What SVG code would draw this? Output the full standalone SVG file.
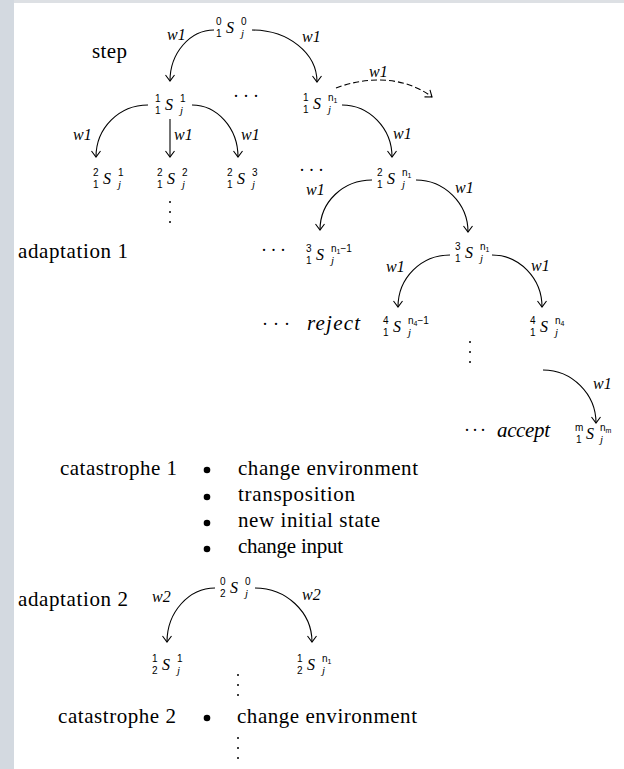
<svg xmlns="http://www.w3.org/2000/svg" width="624" height="769" viewBox="0 0 624 769">
<defs>
<style>
.lbl{font-size:21px;fill:#000}
.it{font-style:italic;font-size:21px;fill:#000}
.w{font-style:italic;font-size:16px;fill:#000}
.d{font-family:'Liberation Sans',Arial,sans-serif;font-size:10px;fill:#000}
.ds{font-family:'Liberation Sans',Arial,sans-serif;font-size:7px;fill:#000}
.S{font-style:italic;font-size:16px;fill:#000}
.j{font-style:italic;font-size:11px;fill:#000}
.dots{font-size:18px;fill:#000}
.arc{fill:none;stroke:#000;stroke-width:1.1;marker-end:url(#ah)}
.dash{stroke-dasharray:6 3}
.vd{fill:#000}
</style>
<marker id="ah" markerUnits="userSpaceOnUse" markerWidth="12" markerHeight="12" refX="7" refY="4.5" orient="auto" overflow="visible">
<path d="M1 0 L7 4.5 L1 9" fill="none" stroke="#000" stroke-width="1.1" stroke-dasharray="none"/>
</marker>
</defs>
<rect x="0" y="0" width="624" height="769" fill="#ffffff"/>
<rect x="0" y="0" width="624" height="3" fill="#dde0e4"/>
<rect x="0" y="0" width="14" height="769" fill="#d3d9e0"/>

<g id="diagram" font-family="Liberation Serif, DejaVu Serif, serif">
<g id="labels">
<text class="lbl" x="92" y="58" textLength="35" font-family="Liberation Serif">step</text>
<text class="lbl" x="18" y="258" textLength="110" font-family="Liberation Serif">adaptation 1</text>
<text class="it" x="307" y="330" textLength="53" font-family="Liberation Serif">reject</text>
<text class="it" x="497" y="437" textLength="53" font-family="Liberation Serif">accept</text>
<text class="lbl" x="60" y="475" textLength="117" font-family="Liberation Serif">catastrophe 1</text>
<text class="lbl" x="238" y="475" textLength="180" font-family="Liberation Serif">change environment</text>
<text class="lbl" x="238" y="501" textLength="117" font-family="Liberation Serif">transposition</text>
<text class="lbl" x="238" y="527" textLength="142" font-family="Liberation Serif">new initial state</text>
<text class="lbl" x="238" y="553" textLength="105" font-family="Liberation Serif">change input</text>
<text class="lbl" x="18" y="606" textLength="110" font-family="Liberation Serif">adaptation 2</text>
<text class="lbl" x="58" y="723" textLength="118" font-family="Liberation Serif">catastrophe 2</text>
<text class="lbl" x="237" y="723" textLength="180" font-family="Liberation Serif">change environment</text>
<circle cx="207" cy="470" r="3.3"/>
<circle cx="207" cy="497" r="3.3"/>
<circle cx="207" cy="523" r="3.3"/>
<circle cx="207" cy="549" r="3.3"/>
<circle cx="207" cy="718" r="3.3"/>
</g>

<g id="ellipses">
<text class="dots" x="233" y="102" textLength="26">· · ·</text>
<text class="dots" x="299" y="176" textLength="25">· · ·</text>
<text class="dots" x="261" y="256" textLength="25">· · ·</text>
<text class="dots" x="262" y="330" textLength="28">· · ·</text>
<text class="dots" x="464" y="436" textLength="22">· · ·</text>
<g class="vd">
<circle cx="170" cy="202" r="1"/><circle cx="170" cy="212" r="1"/><circle cx="170" cy="222" r="1"/>
<circle cx="470" cy="342" r="1"/><circle cx="470" cy="352" r="1"/><circle cx="470" cy="362" r="1"/>
<circle cx="238" cy="675" r="1"/><circle cx="238" cy="685" r="1"/><circle cx="238" cy="695" r="1"/>
<circle cx="238" cy="738" r="1"/><circle cx="238" cy="748" r="1"/><circle cx="238" cy="758" r="1"/>
</g>
</g>

<g id="connectors">
<path class="arc" d="M214 30 C190 30 170 53 170 81"/>
<path class="arc" d="M252 30 C288 30 317 53 317 82"/>
<path class="arc" d="M148 105 C119 105 96 128 96 157"/>
<path class="arc" d="M170 119 L170 157"/>
<path class="arc" d="M192 105 C217 105 238 128 238 157"/>
<path class="arc dash" d="M336 88 C362 78 402 74 432 97"/>
<path class="arc" d="M342 105 C369 105 392 128 392 157"/>
<path class="arc" d="M372 180 C343 180 320 202 320 230"/>
<path class="arc" d="M416 180 C444 180 468 203 468 232"/>
<path class="arc" d="M450 255 C421 255 398 278 398 307"/>
<path class="arc" d="M492 255 C519 255 542 278 542 307"/>
<path class="arc" d="M543 370 C572 370 596 394 596 423"/>
<path class="arc" d="M215 588 C189 588 167 612 167 642"/>
<path class="arc" d="M255 588 C286 588 312 612 312 642"/>
<text class="w" x="167" y="40">w1</text>
<text class="w" x="302" y="42">w1</text>
<text class="w" x="369" y="77">w1</text>
<text class="w" x="73" y="140">w1</text>
<text class="w" x="174" y="140">w1</text>
<text class="w" x="241" y="140">w1</text>
<text class="w" x="393" y="139">w1</text>
<text class="w" x="306" y="195">w1</text>
<text class="w" x="455" y="193">w1</text>
<text class="w" x="386" y="272">w1</text>
<text class="w" x="531" y="271">w1</text>
<text class="w" x="593" y="389">w1</text>
<text class="w" x="152" y="602">w2</text>
<text class="w" x="302" y="600">w2</text>
</g>

<g id="n-root1" transform="translate(216,33)">
<text class="d" x="0" y="-8">0</text><text class="d" x="0" y="4">1</text>
<text class="S" x="10" y="0">S</text>
<text class="d" x="25" y="-8">0</text><text class="j" x="25" y="4">j</text>
</g>
<g id="n-1-1" transform="translate(155,110)">
<text class="d" x="0" y="-8">1</text><text class="d" x="0" y="4">1</text>
<text class="S" x="10" y="0">S</text>
<text class="d" x="25" y="-8">1</text><text class="j" x="25" y="4">j</text>
</g>
<g id="n-1-n1" transform="translate(303,109)">
<text class="d" x="0" y="-8">1</text><text class="d" x="0" y="4">1</text>
<text class="S" x="10" y="0">S</text>
<text class="d" x="25" y="-8">n<tspan class="ds" dy="1.5">1</tspan></text><text class="j" x="25" y="4">j</text>
</g>
<g id="n-2-1" transform="translate(93,184)">
<text class="d" x="0" y="-8">2</text><text class="d" x="0" y="4">1</text>
<text class="S" x="10" y="0">S</text>
<text class="d" x="25" y="-8">1</text><text class="j" x="25" y="4">j</text>
</g>
<g id="n-2-2" transform="translate(157,184)">
<text class="d" x="0" y="-8">2</text><text class="d" x="0" y="4">1</text>
<text class="S" x="10" y="0">S</text>
<text class="d" x="25" y="-8">2</text><text class="j" x="25" y="4">j</text>
</g>
<g id="n-2-3" transform="translate(227,184)">
<text class="d" x="0" y="-8">2</text><text class="d" x="0" y="4">1</text>
<text class="S" x="10" y="0">S</text>
<text class="d" x="25" y="-8">3</text><text class="j" x="25" y="4">j</text>
</g>
<g id="n-2-n1" transform="translate(377,184)">
<text class="d" x="0" y="-8">2</text><text class="d" x="0" y="4">1</text>
<text class="S" x="10" y="0">S</text>
<text class="d" x="25" y="-8">n<tspan class="ds" dy="1.5">1</tspan></text><text class="j" x="25" y="4">j</text>
</g>
<g id="n-3-n1m1" transform="translate(306,260)">
<text class="d" x="0" y="-8">3</text><text class="d" x="0" y="4">1</text>
<text class="S" x="10" y="0">S</text>
<text class="d" x="25" y="-8">n<tspan class="ds" dy="1.5">1</tspan><tspan dy="-1.5">−1</tspan></text><text class="j" x="25" y="4">j</text>
</g>
<g id="n-3-n1" transform="translate(455,258)">
<text class="d" x="0" y="-8">3</text><text class="d" x="0" y="4">1</text>
<text class="S" x="10" y="0">S</text>
<text class="d" x="25" y="-8">n<tspan class="ds" dy="1.5">1</tspan></text><text class="j" x="25" y="4">j</text>
</g>
<g id="n-4-n4m1" transform="translate(383,332)">
<text class="d" x="0" y="-8">4</text><text class="d" x="0" y="4">1</text>
<text class="S" x="10" y="0">S</text>
<text class="d" x="25" y="-8">n<tspan class="ds" dy="1.5">4</tspan><tspan dy="-1.5">−1</tspan></text><text class="j" x="25" y="4">j</text>
</g>
<g id="n-4-n4" transform="translate(530,332)">
<text class="d" x="0" y="-8">4</text><text class="d" x="0" y="4">1</text>
<text class="S" x="10" y="0">S</text>
<text class="d" x="25" y="-8">n<tspan class="ds" dy="1.5">4</tspan></text><text class="j" x="25" y="4">j</text>
</g>
<g id="n-m-nm" transform="translate(575,439)">
<text class="d" x="0" y="-8">m</text><text class="d" x="1" y="4">1</text>
<text class="S" x="11" y="0">S</text>
<text class="d" x="25" y="-8">n<tspan class="ds" dy="1.5">m</tspan></text><text class="j" x="25" y="4">j</text>
</g>
<g id="n-root2" transform="translate(220,593)">
<text class="d" x="0" y="-8">0</text><text class="d" x="0" y="4">2</text>
<text class="S" x="10" y="0">S</text>
<text class="d" x="25" y="-8">0</text><text class="j" x="25" y="4">j</text>
</g>
<g id="n-c1" transform="translate(152,670)">
<text class="d" x="0" y="-8">1</text><text class="d" x="0" y="4">2</text>
<text class="S" x="10" y="0">S</text>
<text class="d" x="25" y="-8">1</text><text class="j" x="25" y="4">j</text>
</g>
<g id="n-c2" transform="translate(297,670)">
<text class="d" x="0" y="-8">1</text><text class="d" x="0" y="4">2</text>
<text class="S" x="10" y="0">S</text>
<text class="d" x="25" y="-8">n<tspan class="ds" dy="1.5">1</tspan></text><text class="j" x="25" y="4">j</text>
</g>
</g>
</svg>
